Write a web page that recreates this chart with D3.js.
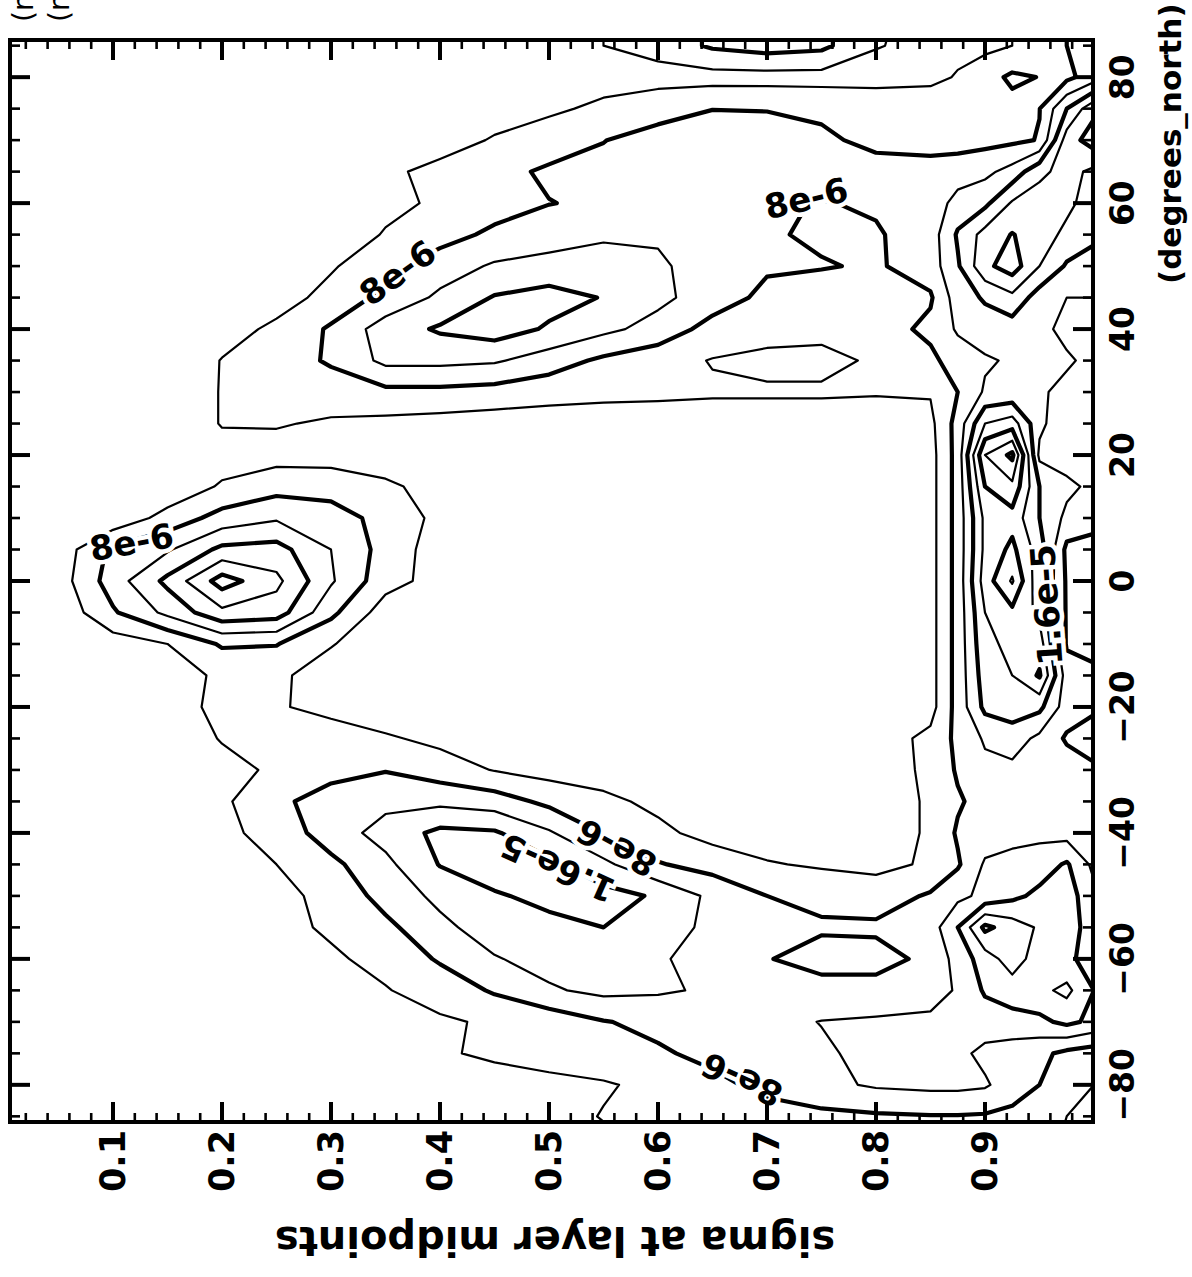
<!DOCTYPE html>
<html>
<head>
<meta charset="utf-8">
<script src="https://cdn.jsdelivr.net/npm/d3@7"></script>
<style>
  body { margin: 0; background: #fff; }
  svg { display: block; }
  text { font-family: "DejaVu Sans", sans-serif; font-weight: bold; }
</style>
</head>
<body>
<div id="chart"></div>
<script>
// grid columns: sigma at layer midpoints
const sigmaNodes = [0, 0.05, 0.1, 0.15, 0.2, 0.25, 0.3, 0.35, 0.4, 0.45, 0.5, 0.55,
  0.6, 0.65, 0.7, 0.75, 0.8, 0.85, 0.875, 0.9, 0.925, 0.95, 0.975, 1.0];
// grid rows: latitude, north to south
const latNodes = [90, 85, 80, 75, 70, 65, 60, 55, 50, 45, 40, 35, 30, 25, 20, 15, 10, 5, 0,
  -5, -10, -15, -20, -25, -30, -35, -40, -45, -50, -55, -60, -65, -70, -75, -80, -85, -90];
// field values in units of 1e-6, one row per latitude
const tracer = [
  [0,0,0,0,0,0,1,1,2,2,3,4,5.5,8.6,9.8,9,4.5,3,3,3,4,6,8,10],
  [0,0,0,0,0,0,1,1,2,2,3,4,5.5,8.6,9.8,9,4.2,3,3,3,4,6,8,10],
  [0,0,0,0,0,0,0.5,1,1.5,2,2.5,2.5,2.5,2.5,2.5,2.5,2.5,3,4.3,6.5,8.7,7.9,7,10],
  [0,0,0,0,0,0.5,1,1.5,2,2.5,3.3,4.8,6.5,7.9,7.8,7.3,6.8,6.5,6.5,6.5,6.8,7.9,16,23],
  [0,0,0,0,0,0.5,1,1.5,2.5,4.3,6,7.9,9.5,10.5,10,8.7,7,6.5,6.5,6.8,7.2,8.2,22,26],
  [0,0,0,0,0,0.5,1.5,3.3,5,6.8,8.6,9,9,10,10.5,10,9.5,9.5,10,11,13.5,19,21.5,19],
  [0,0,0,0,0,0.5,1.5,3,4.6,6.3,7.9,8.6,9.2,9.3,8.6,7.8,8.5,9.5,13.5,15,20.5,22,21,18],
  [0,0,0,0,0,0.5,1.5,4.3,6.5,8.8,10,11.5,11.6,10.5,8.5,7.3,7.6,10,16.5,21.5,24.2,22,19,17],
  [0,0,0,0,0,0.5,3.5,7,10,12.5,13.5,13.5,12.5,10.5,8.5,8.3,7.5,10,15.5,23,26,20,15.5,14],
  [0,0,0,0,0,2,5.5,9,12.8,16.3,17.5,15.8,13,10,7,5.5,5.5,7.5,14,16.5,19,14,12,12],
  [0,0,0,0,2,5,8.5,14,16.5,18,15.5,13,10.5,6.5,5.5,5,6,9,12.5,14,14,13,11,10],
  [0,0,0,0,4.2,6,8.5,13,13,12.5,10,7.2,5.5,3.8,3,3,4.5,7,10,11.5,12.5,13,12.5,11],
  [0,0,0,0,4.3,5,6,7,7,6.5,5.5,5,4.8,4.5,4.5,4.5,4.3,4.3,8,12.5,13,12.5,11,10],
  [0,0,0,0,4.3,4.3,3.5,3,2.5,2,2,2,2,2,2,2,2,3,9.5,20,22,13,9,8],
  [0,0,0,0,2,2.5,2.5,2.5,2,1.5,1.5,1.5,1.5,1.5,1.5,1.5,2,2.5,9.5,28,33,11,10,9],
  [0,0,0,1,4.5,6.5,6.2,4.5,3,2.5,2,1.5,1.5,1.5,1.5,1.5,2,2.5,9.5,24,27,16,13,11],
  [0,0,1,5.5,9.5,11.5,10,6.5,3,2,1.5,1.5,1.5,1.5,1.5,1.5,2,2.5,9.5,21,22.5,16,11,10],
  [0,1.5,9,11.5,17,17.5,12,6.5,2,1.5,1.5,1.5,1.5,1.5,1.5,1.5,2,2.5,9.5,21,25,18,7,6],
  [0,2,10,17,25.8,21,12.5,5.5,2.5,1.5,1.5,1.5,1.5,1.5,1.5,1.5,2,2.5,9.5,22,28.5,17,7.5,6],
  [0,1,7.5,13,19,18,9,2,1.5,1.5,1.5,1.5,1.5,1.5,1.5,1.5,2,2.5,9.5,20,23,19,7.5,6],
  [0,0.5,2,4,8.5,8.2,4.2,2,1.5,1.5,1.5,1.5,1.5,1.5,1.5,1.5,2,2.5,9.5,19,21,22,7.5,6.5],
  [0,0,1,2.5,4.6,4.6,2.5,1.5,1.5,1.5,1.5,1.5,1.5,1.5,1.5,1.5,2,2.5,9.5,18,20,24.5,10,9],
  [0,0,1,3,4.6,4.5,2.5,1.5,1.5,1.5,1.5,1.5,1.5,1.5,1.5,1.5,2,2.5,9.5,17,18,17,10,9],
  [0,0,0.5,2,4.2,6,6.5,4.5,3,2,1.5,1.5,1.5,1.5,1.5,1.5,2,5,9,12.5,14,11,7.5,5],
  [0,0,0.5,1.5,3,4.5,6.5,7.8,6,3.8,2.5,2,1.5,1.5,1.5,1.5,2,4.8,8.5,11,11,10,10,9],
  [0,0,0.5,1.5,3.3,7,10,11,11,10,7,5,3,2,1.5,1.5,2,4.5,7.5,9.5,10,10,10,11],
  [0,0,0.5,1.5,3,5.5,10,13.5,17,16.5,12.5,7.8,5,2.5,2,2,2,4.5,8.5,10,11,11,10.5,11],
  [0,0,0.5,1.5,3,4,7,11,16.2,18,17,13,8.3,6.5,4.3,3.5,3,4.5,7.5,12.5,13,14,16.5,11],
  [0,0,0.5,1.5,3,3,5,9.5,13,15.6,17,17.5,15.5,11,8,7,6,8.5,11,13,15,17,18,13],
  [0,0,0.5,1.5,2.5,3,4.5,7,11,14,15,16,14,11,9.5,8.5,8.7,10,16,25,22,19.5,17,15],
  [0,0,0.5,1.5,2.5,3,3.5,5,8.5,11.7,13.5,13,12.3,11,8.2,6.5,6.5,9,13.5,18,22,18,17,14],
  [0,0,0.5,1.5,2,2.5,3,3.8,5.5,8.5,11.5,13,12.5,11.5,10,9.5,9.5,10,12.5,16.5,18,19,21,16],
  [0,0,0,0.5,1,1.5,2,2.5,3.5,4.5,5.5,7.8,9,10,11,12.1,12.5,13,13.5,14,14.5,15,17,15],
  [0,0,0,0,0.5,1,1.5,2,3.6,4.6,5.5,6.5,7.5,9,10.5,11.5,13,13,13,11,10,9,7,6],
  [0,0,0,0,0,0.5,1,1.5,2,2.5,3,3.6,5,7,9,11,12.5,13,13,12.5,10,8,5,4],
  [0,0,0,0,0,0,0.5,1,1.5,2,2.5,4.2,4.5,5.5,6.5,7,7.5,7.8,7.8,7.6,7,6,4,3],
  [0,0,0,0,0,0,0,0.5,1,1.5,2,3,4,5,6,6.5,7,7.5,7.5,7,6.5,5,3.5,3]
];
// contour levels (1e-6); every second one drawn heavy
const levels = [4, 8, 12, 16, 20, 24, 28, 32];
const heavyLevels = [8, 16, 24, 32];

// in-line contour labels
const contourLabels = [
  { text: "8e-6",   sigma: 0.361, lat: 49.0,  angle: -36 },
  { text: "8e-6",   sigma: 0.736, lat: 60.8,  angle: -13 },
  { text: "8e-6",   sigma: 0.117, lat: 6.2,   angle: -10 },
  { text: "1.6e-5", sigma: 0.508, lat: -45.6, angle: 204 },
  { text: "8e-6",   sigma: 0.562, lat: -42.4, angle: 208 },
  { text: "8e-6",   sigma: 0.677, lat: -79.2, angle: 204 },
  { text: "1.6e-5", sigma: 0.956, lat: -3.8,  angle: -94 }
];

const sigmaTicks = [0.1, 0.2, 0.3, 0.4, 0.5, 0.6, 0.7, 0.8, 0.9];
const sigmaTickLabels = ["0.1", "0.2", "0.3", "0.4", "0.5", "0.6", "0.7", "0.8", "0.9"];
const latTicks = [-80, -60, -40, -20, 0, 20, 40, 60, 80];
const latTickLabels = ["\u221280", "\u221260", "\u221240", "\u221220", "0", "20", "40", "60", "80"];

const width = 1192, height = 1277;
const frameL = 10, frameR = 1093, frameT = 40, frameB = 1122;

const svg = d3.select("#chart").append("svg")
  .attr("width", width)
  .attr("height", height);

const x = d3.scaleLinear().domain([0.0055, 0.9991]).range([frameL, frameR]);
const y = d3.scaleLinear().domain([85.9, -85.9]).range([frameT, frameB]);

// contour grid coordinate -> data coordinate (cell centres sit at i + 0.5)
function nodeAt(nodes, c) {
  const i = c - 0.5, n = nodes.length;
  if (i <= 0) return nodes[0] + i * (nodes[1] - nodes[0]);
  if (i >= n - 1) return nodes[n - 1] + (i - n + 1) * (nodes[n - 1] - nodes[n - 2]);
  const k = Math.floor(i), t = i - k;
  return nodes[k] + t * (nodes[k + 1] - nodes[k]);
}

const contours = d3.contours()
  .size([sigmaNodes.length, latNodes.length])
  .thresholds(levels)(tracer.flat());

const toScreen = d3.geoTransform({
  point(px, py) {
    this.stream.point(x(nodeAt(sigmaNodes, px)), y(nodeAt(latNodes, py)));
  }
});
const path = d3.geoPath(toScreen);

svg.append("defs").append("clipPath")
  .attr("id", "plot-clip")
  .append("rect")
  .attr("x", frameL).attr("y", frameT)
  .attr("width", frameR - frameL).attr("height", frameB - frameT);

const plot = svg.append("g").attr("clip-path", "url(#plot-clip)");

plot.selectAll("path")
  .data(contours)
  .enter()
  .append("path")
  .attr("d", path)
  .attr("fill", "none")
  .attr("stroke", "#000")
  .attr("stroke-linejoin", "round")
  .attr("stroke-width", d => heavyLevels.includes(d.value) ? 4.2 : 2.2);

// labels knock a gap out of the line they sit on
plot.selectAll("text")
  .data(contourLabels)
  .enter()
  .append("text")
  .attr("transform", d => `translate(${x(d.sigma)},${y(d.lat)}) rotate(${d.angle})`)
  .attr("text-anchor", "middle")
  .attr("dy", "0.36em")
  .style("font-size", "34px")
  .style("paint-order", "stroke")
  .attr("stroke", "#fff")
  .attr("stroke-width", 9)
  .attr("fill", "#000")
  .text(d => d.text);

// frame
svg.append("rect")
  .attr("x", frameL).attr("y", frameT)
  .attr("width", frameR - frameL).attr("height", frameB - frameT)
  .attr("fill", "none")
  .attr("stroke", "#000")
  .attr("stroke-width", 4);

const axes = svg.append("g").attr("stroke", "#000").attr("stroke-linecap", "butt");

const sigmaMinor = d3.range(1, 50).map(k => k * 0.02).filter(s => Math.abs(s * 10 - Math.round(s * 10)) > 1e-6);
const latMinor = d3.range(-85, 86, 5).filter(l => l % 20 !== 0);

// sigma ticks on bottom and top edges, pointing inward
[[frameB, -1], [frameT, 1]].forEach(([edge, dir]) => {
  axes.selectAll(null).data(sigmaMinor).enter().append("line")
    .attr("x1", d => x(d)).attr("x2", d => x(d))
    .attr("y1", edge).attr("y2", edge + dir * 9)
    .attr("stroke-width", 2.6);
  axes.selectAll(null).data(sigmaTicks).enter().append("line")
    .attr("x1", d => x(d)).attr("x2", d => x(d))
    .attr("y1", edge).attr("y2", edge + dir * 20)
    .attr("stroke-width", 4);
});

// latitude ticks on left and right edges, pointing inward
[[frameL, 1], [frameR, -1]].forEach(([edge, dir]) => {
  axes.selectAll(null).data(latMinor).enter().append("line")
    .attr("y1", d => y(d)).attr("y2", d => y(d))
    .attr("x1", edge).attr("x2", edge + dir * 10)
    .attr("stroke-width", 2.6);
  axes.selectAll(null).data(latTicks).enter().append("line")
    .attr("y1", d => y(d)).attr("y2", d => y(d))
    .attr("x1", edge).attr("x2", edge + dir * 20)
    .attr("stroke-width", 4);
});

// tick labels (the whole plot is turned a quarter turn)
svg.append("g").selectAll("text")
  .data(sigmaTicks)
  .enter()
  .append("text")
  .attr("transform", d => `translate(${x(d) + 12},1130) rotate(-90)`)
  .attr("text-anchor", "end")
  .style("font-size", "35px")
  .text((d, i) => sigmaTickLabels[i]);

svg.append("g").selectAll("text")
  .data(latTicks)
  .enter()
  .append("text")
  .attr("transform", d => `translate(1134,${y(d)}) rotate(-90)`)
  .attr("text-anchor", "middle")
  .style("font-size", "33px")
  .text((d, i) => latTickLabels[i]);

svg.append("text")
  .attr("transform", "translate(1181,284) rotate(-90)")
  .attr("text-anchor", "start")
  .style("font-size", "31px")
  .text("(degrees_north)");

svg.append("text")
  .attr("transform", "translate(555,1227) rotate(180)")
  .attr("text-anchor", "middle")
  .style("font-size", "40px")
  .text("sigma at layer midpoints");

// header lines cut off by the top edge
[33, 69].forEach(bx => {
  svg.append("text")
    .attr("transform", `translate(${bx},22) rotate(-90)`)
    .attr("text-anchor", "start")
    .style("font-size", "28px")
    .style("font-weight", "normal")
    .text("(r");
});
</script>
</body>
</html>
